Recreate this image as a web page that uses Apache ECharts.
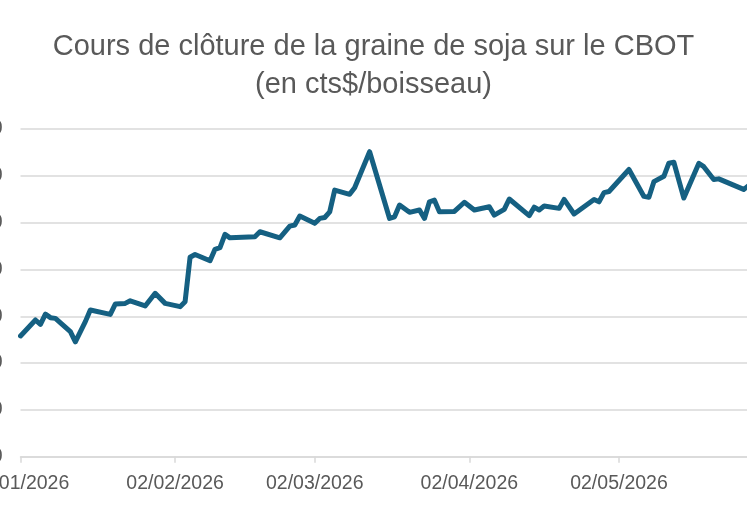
<!DOCTYPE html>
<html>
<head>
<meta charset="utf-8">
<script src="https://cdn.jsdelivr.net/npm/echarts@6/dist/echarts.min.js"></script>
<style>
  html, body { margin: 0; padding: 0; background: #fff; overflow: hidden; }
  #soja-chart { width: 747px; height: 513px; }
</style>
</head>
<body>
<div id="soja-chart"></div>
<script>
  // cours de clôture (cts$/boisseau)
  const dates = [
    '2026-01-02', '2026-01-05', '2026-01-06', '2026-01-07', '2026-01-08', '2026-01-09', '2026-01-12', '2026-01-13', '2026-01-15', '2026-01-16',
    '2026-01-20', '2026-01-21', '2026-01-23', '2026-01-24', '2026-01-27', '2026-01-29', '2026-01-31', '2026-02-03', '2026-02-04', '2026-02-05',
    '2026-02-06', '2026-02-09', '2026-02-10', '2026-02-11', '2026-02-12', '2026-02-13', '2026-02-18', '2026-02-19', '2026-02-23', '2026-02-25',
    '2026-02-26', '2026-02-27', '2026-03-02', '2026-03-03', '2026-03-04', '2026-03-05', '2026-03-06', '2026-03-09', '2026-03-10', '2026-03-13',
    '2026-03-17', '2026-03-18', '2026-03-19', '2026-03-21', '2026-03-23', '2026-03-24', '2026-03-25', '2026-03-26', '2026-03-27', '2026-03-30',
    '2026-04-01', '2026-04-03', '2026-04-06', '2026-04-07', '2026-04-09', '2026-04-10', '2026-04-14', '2026-04-15', '2026-04-16', '2026-04-17',
    '2026-04-20', '2026-04-21', '2026-04-23', '2026-04-27', '2026-04-28', '2026-04-29', '2026-04-30', '2026-05-04', '2026-05-07', '2026-05-08',
    '2026-05-09', '2026-05-11', '2026-05-12', '2026-05-13', '2026-05-15', '2026-05-18', '2026-05-19', '2026-05-21', '2026-05-22', '2026-05-27',
    '2026-05-28'
  ];
  const closes = [
    1051.6, 1058.4, 1056.5, 1060.9, 1059.4, 1059.1, 1053.4, 1049.1, 1057.7, 1062.7,
    1060.8, 1065.2, 1065.5, 1066.6, 1064.4, 1069.8, 1065.5, 1064.1, 1066.2, 1085.2,
    1086.4, 1083.7, 1088.6, 1089.3, 1095.0, 1093.5, 1094.0, 1096.1, 1093.5, 1098.5,
    1099.0, 1102.8, 1099.7, 1101.8, 1102.2, 1104.6, 1113.9, 1112.1, 1114.9, 1130.3,
    1101.8, 1102.5, 1107.5, 1104.4, 1105.4, 1101.8, 1108.9, 1109.6, 1104.6, 1104.8,
    1108.7, 1105.4, 1106.8, 1103.2, 1105.7, 1110.1, 1103.0, 1106.6, 1105.4, 1107.1,
    1106.1, 1109.9, 1103.7, 1109.9, 1108.9, 1112.8, 1113.3, 1122.7, 1111.2, 1110.8,
    1117.5, 1119.8, 1125.4, 1125.8, 1110.5, 1125.3, 1123.9, 1118.4, 1118.7, 1114.2,
    1115.8
  ];
  const tickDates = ['2026-01-02', '2026-02-02', '2026-03-02', '2026-04-02', '2026-05-02'];

  const startDate = '2026-01-02';
  const dayMs = 86400000;
  function dayIndex(d) {
    return Math.round((Date.parse(d) - Date.parse(startDate)) / dayMs);
  }
  function frDate(d) {
    const p = d.split('-');
    return p[2] + '/' + p[1] + '/' + p[0];
  }

  const seriesData = dates.map((d, i) => [dayIndex(d), closes[i]]);
  const tickDays = tickDates.map(dayIndex);
  const tickLabels = {};
  tickDates.forEach(d => { tickLabels[dayIndex(d)] = frDate(d); });

  const chart = echarts.init(document.getElementById('soja-chart'));
  chart.setOption({
    animation: false,
    title: {
      text: 'Cours de clôture de la graine de soja sur le CBOT\n(en cts$/boisseau)',
      left: 'center',
      top: 23,
      textStyle: {
        fontFamily: 'Liberation Sans',
        fontSize: 29,
        fontWeight: 'normal',
        color: '#595959',
        lineHeight: 38
      }
    },
    grid: {
      left: 20.5,
      right: -21.6,
      top: 129,
      bottom: 56.3,
      containLabel: false,
      outerBoundsMode: 'none'
    },
    xAxis: {
      type: 'value',
      min: 0,
      max: 150,
      axisLine: { show: true, lineStyle: { color: '#d9d9d9', width: 1.5 } },
      axisTick: {
        show: true,
        customValues: tickDays,
        length: 6,
        lineStyle: { color: '#d9d9d9', width: 1.5 }
      },
      axisLabel: {
        customValues: tickDays,
        formatter: v => tickLabels[v] || '',
        margin: 17,
        fontFamily: 'Liberation Sans',
        fontSize: 19.5,
        color: '#595959',
        showMinLabel: true
      },
      splitLine: { show: false }
    },
    yAxis: {
      type: 'value',
      min: 1000,
      max: 1140,
      interval: 20,
      axisLine: { show: false },
      axisTick: { show: false },
      axisLabel: {
        margin: 18,
        fontFamily: 'Liberation Sans',
        fontSize: 19.5,
        color: '#595959'
      },
      splitLine: { lineStyle: { color: '#d9d9d9', width: 1.5 } }
    },
    series: [{
      type: 'line',
      data: seriesData,
      symbol: 'none',
      smooth: false,
      lineStyle: { color: '#156082', width: 5, cap: 'round', join: 'round' }
    }]
  });
</script>
</body>
</html>
